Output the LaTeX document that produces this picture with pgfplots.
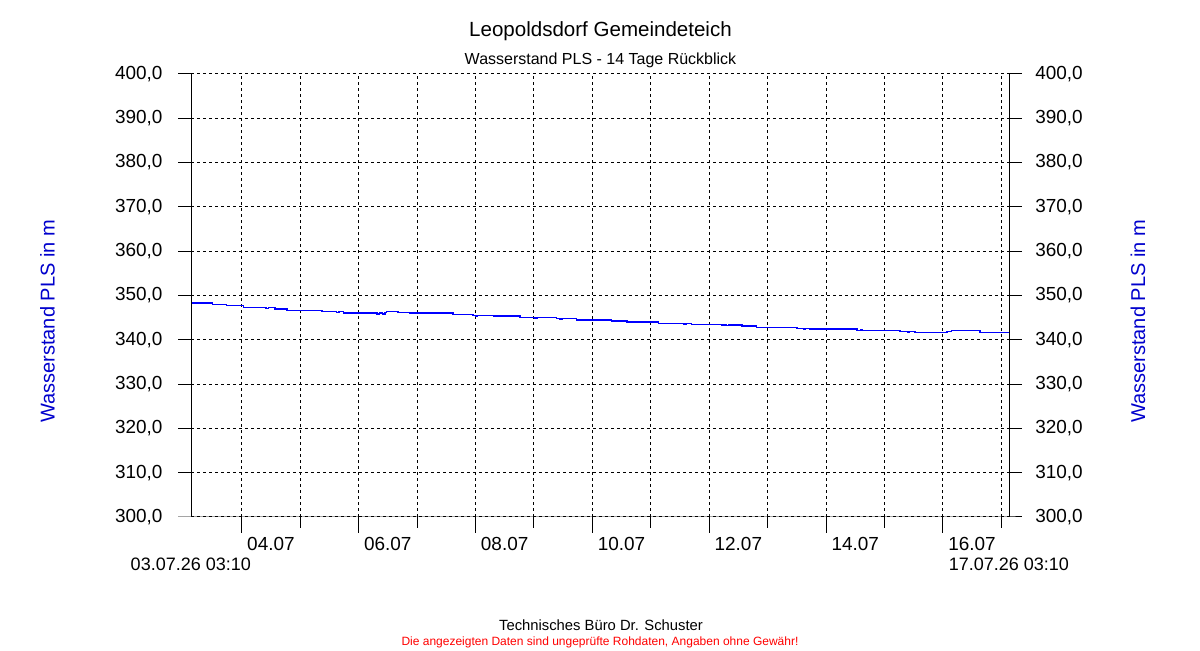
\documentclass[border=0pt]{standalone}
\usepackage{pgfplots}
\pgfplotsset{compat=1.18}
\usepackage{fontspec}
\setmainfont{Liberation Sans}
\definecolor{lblue}{RGB}{0,0,205}
\definecolor{dblue}{RGB}{0,0,255}
\definecolor{fred}{RGB}{255,0,0}

\begin{document}
\begin{tikzpicture}
\path[use as bounding box, fill=white] (0,0) rectangle (900pt,487.5pt);
\begin{axis}[
  at={(143.25pt,99.75pt)}, anchor=south west,
  scale only axis, width=613.5pt, height=332.25pt,
  xmin=3.131944, xmax=17.131944, ymin=300, ymax=400,
  clip=false,
  axis line style={draw=none},
  major tick length=0pt, minor tick length=0pt,
  xtick={4.5,6.5,...,16.5},
  xticklabels={04.07,06.07,08.07,10.07,12.07,14.07,16.07},
  minor xtick={4,5,...,17},
  ytick={300,310,...,400},
  xmajorgrids=false, xminorgrids=true, ymajorgrids=true,
  major grid style={black, line width=0.75pt, dash pattern=on 2.25pt off 2.25pt},
  minor grid style={black, line width=0.75pt, dash pattern=on 2.25pt off 2.25pt},
  ytick pos=left, xtick pos=bottom,
  /pgf/number format/.cd, fixed, fixed zerofill, precision=1, use comma, assume math mode=true,
  /pgfplots/.cd,
  yticklabel style={font=\fontsize{14.2}{16}\selectfont, anchor=east, inner sep=0pt, xshift=-21.2pt},
  xticklabel style={font=\fontsize{14.2}{16}\selectfont, anchor=base, inner sep=0pt, yshift=-25.3pt},
]
\addplot[const plot, color=dblue, line width=1.2pt, mark=none] coordinates {
(3.132,348.25) (3.50,348.0) (3.60,348.0) (3.74,347.7) (4.03,347.3)
(4.40,347.3) (4.42,347.1) (4.46,347.3) (4.57,347.0) (4.77,346.65)
(5.37,346.4) (5.60,346.4) (5.62,346.2) (5.66,346.4) (5.74,346.05) (5.80,345.9) (5.84,346.05)
(6.02,346.0) (6.30,346.0) (6.32,345.85) (6.36,346.0) (6.41,345.85) (6.45,346.2)
(6.48,346.4) (6.67,346.2) (6.88,346.0) (7.25,346.0) (7.27,346.15) (7.30,346.0)
(7.62,345.75) (7.96,345.52) (8.00,345.40) (8.03,345.52) (8.31,345.37) (8.40,345.25) (8.43,345.37)
(8.76,345.07) (9.00,345.07) (9.02,344.95) (9.05,345.07) (9.39,344.77) (9.45,344.65) (9.48,344.77)
(9.73,344.47) (10.33,344.24) (10.59,344.02) (11.13,343.72) (11.55,343.72) (11.57,343.6) (11.60,343.72)
(11.70,343.49) (12.22,343.34) (12.30,343.20) (12.33,343.34) (12.40,343.20) (12.43,343.34)
(12.56,343.12) (12.81,342.82) (13.50,342.59) (13.62,342.45) (13.65,342.59) (13.73,342.37)
(14.53,342.14) (14.60,342.25) (14.62,342.14) (15.27,341.91) (15.40,341.80) (15.43,341.91)
(15.52,341.69) (16.07,341.90) (16.15,342.06) (16.64,341.69) (17.132,341.69)
};
% axis lines
\draw[line width=0.75pt] (rel axis cs:0,0) ++(-9.75pt,0pt) -- (rel axis cs:1,0) -- ++(10pt,0pt);
\draw[line width=0.75pt] (rel axis cs:0,0) -- (rel axis cs:0,1);
\draw[line width=0.75pt] (rel axis cs:1,0) -- (rel axis cs:1,1);
\pgfplotsinvokeforeach{310,320,...,400}{
  \draw[line width=0.75pt] (axis cs:3.131944,#1) -- ++(-9.75pt,0pt);
  \draw[line width=0.75pt] (axis cs:17.131944,#1) -- ++(10pt,0pt);
}
\pgfplotsinvokeforeach{4,6,...,16}{
  \draw[line width=0.75pt] (axis cs:#1,300) -- ++(0pt,-12pt);
}
\pgfplotsinvokeforeach{5,7,...,17}{
  \draw[line width=0.75pt] (axis cs:#1,300) -- ++(0pt,-8.25pt);
}
\end{axis}
\begin{axis}[
  at={(143.25pt,99.75pt)}, anchor=south west,
  scale only axis, width=613.5pt, height=332.25pt,
  xmin=3.131944, xmax=17.131944, ymin=300, ymax=400,
  axis line style={draw=none},
  major tick length=0pt,
  xtick=\empty,
  ytick={300,310,...,400},
  ytick pos=right, yticklabel pos=right,
  /pgf/number format/.cd, fixed, fixed zerofill, precision=1, use comma, assume math mode=true,
  /pgfplots/.cd,
  yticklabel style={font=\fontsize{14.2}{16}\selectfont, anchor=west, inner sep=0pt, xshift=19.5pt},
]
\end{axis}
\begin{scope}[x=0.75pt,y=-0.75pt,yshift=487.5pt]
\node[anchor=base, font=\fontsize{15.4}{18}\selectfont, inner sep=0pt] at (600.5,36.7) {Leopoldsdorf Gemeindeteich};
\node[anchor=base, font=\fontsize{12}{14}\selectfont, inner sep=0pt] at (600.5,65) {Wasserstand PLS - 14 Tage Rückblick};
\node[anchor=base, font=\fontsize{11.1}{13}\selectfont, inner sep=0pt] at (601,630.7) {Technisches Büro Dr. Schuster};
\node[anchor=base, font=\fontsize{9}{11}\selectfont, inner sep=0pt, text=fred] at (600,646) {Die angezeigten Daten sind ungeprüfte Rohdaten, Angaben ohne Gewähr!};
\node[anchor=base, font=\fontsize{13.5}{16}\selectfont, inner sep=0pt] at (190.8,571) {03.07.26 03:10};
\node[anchor=base, font=\fontsize{13.5}{16}\selectfont, inner sep=0pt] at (1008.8,571) {17.07.26 03:10};
\node[rotate=90, font=\fontsize{15}{18}\selectfont, inner sep=0pt, text=lblue] at (47.5,321.5) {Wasserstand PLS in m};
\node[rotate=90, font=\fontsize{15}{18}\selectfont, inner sep=0pt, text=lblue] at (1138,321.5) {Wasserstand PLS in m};
\end{scope}
\end{tikzpicture}
\end{document}
